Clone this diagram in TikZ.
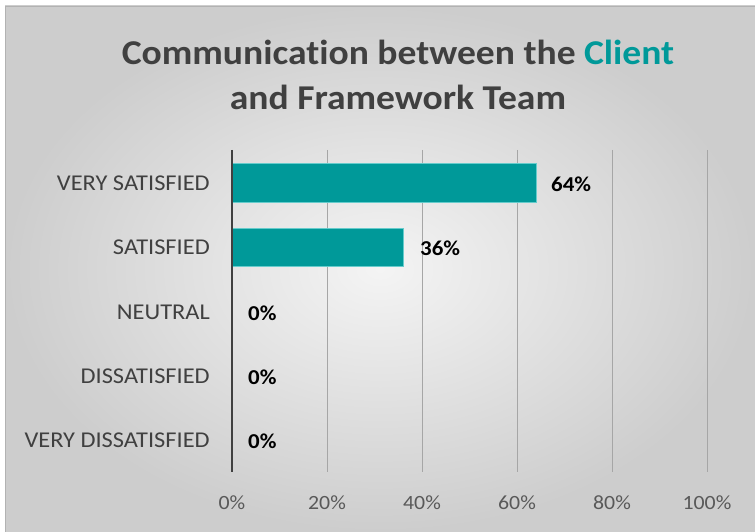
\documentclass[tikz,border=0pt]{standalone}
\usepackage{fontspec}
\setmainfont[Ligatures=NoCommon,FakeStretch=1.08]{Carlito}
\definecolor{teal1}{HTML}{009999}
\definecolor{tealedge}{HTML}{66CCCC}
\definecolor{txtdark}{HTML}{404040}
\definecolor{txtgray}{HTML}{595959}
\definecolor{gridc}{HTML}{A6A6A6}
\definecolor{bginner}{HTML}{F4F4F4}
\definecolor{bgouter}{HTML}{CDCDCD}
\tikzset{
  catlabel/.style={anchor=east, font=\fontsize{22.6}{24}\selectfont, text=txtdark, inner sep=0pt},
  ticklabel/.style={anchor=center, font=\fontsize{20.2}{22}\selectfont, text=txtgray, inner sep=0pt},
  vallabel/.style={anchor=west, font=\fontsize{21.2}{23}\selectfont\bfseries, text=black, inner sep=0pt},
  bar/.style={fill=teal1, draw=tealedge, line width=1pt},
  gridline/.style={draw=gridc, line width=0.8pt},
}
\begin{document}
\begin{tikzpicture}[x=1pt,y=-1pt]
\useasboundingbox (0,0) rectangle (755,532);
\fill[white] (0,0) rectangle (755,532);
\shade[inner color=bginner, outer color=bgouter] (5,6) rectangle (755,532);
\draw[gray!60, line width=0.6pt] (5,532) -- (5,6) -- (755,6);
% title
\node[font=\fontsize{34.8}{45}\selectfont\bfseries, text=txtdark, align=center] (title) at (398,75)
  {Communication between the \textcolor{teal1}{Client}\\and Framework Team};
% grid
\foreach \p/\n in {20/g20,40/g40,60/g60,80/g80,100/g100}{
  \coordinate (\n t) at ({232+4.75*\p},150);
  \coordinate (\n b) at ({232+4.75*\p},472);
  \draw[gridline] (\n t) -- (\n b);
}
% bars
\node[bar, minimum width=304pt, minimum height=38pt, inner sep=0pt, anchor=west] (b1) at (232,183) {};
\node[bar, minimum width=171pt, minimum height=38pt, inner sep=0pt, anchor=west] (b2) at (232,247) {};
% axis
\coordinate (axt) at (232,150);
\coordinate (axb) at (232,472);
\draw[txtdark, line width=2.6pt] (axt) -- (axb);
% category labels
\node[catlabel] (c1) at (210,183) {VERY SATISFIED};
\node[catlabel] (c2) at (210,247) {SATISFIED};
\node[catlabel] (c3) at (210,312) {NEUTRAL};
\node[catlabel] (c4) at (210,376) {DISSATISFIED};
\node[catlabel] (c5) at (210,440) {VERY DISSATISFIED};
% value labels
\node[vallabel] (v1) at (551,184) {64\%};
\node[vallabel] (v2) at (420,248) {36\%};
\node[vallabel] (v3) at (248,313) {0\%};
\node[vallabel] (v4) at (248,377) {0\%};
\node[vallabel] (v5) at (248,441) {0\%};
% tick labels
\foreach \p in {0,20,40,60,80,100}{
  \node[ticklabel] (t\p) at ({232+4.75*\p},503) {\p\%};
}
\end{tikzpicture}
\end{document}
